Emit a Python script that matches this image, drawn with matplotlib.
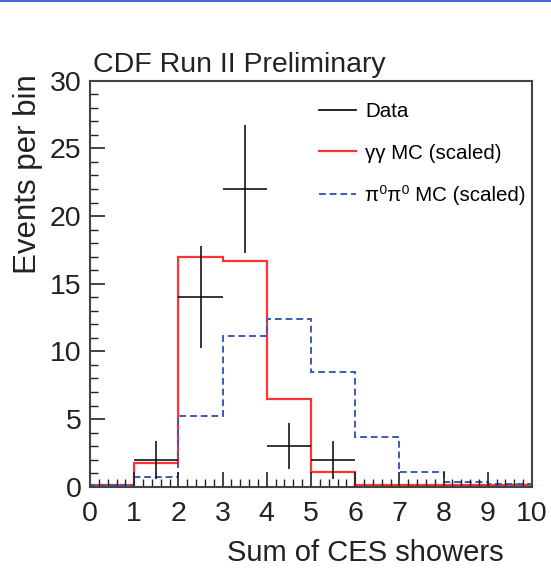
import numpy as np
import matplotlib
matplotlib.use("Agg")
import matplotlib.pyplot as plt
from matplotlib.lines import Line2D

plt.rcParams['font.family'] = ['Liberation Sans', 'DejaVu Sans']

# bin edges (sum of CES showers)
bordes = np.arange(0, 11, 1)

# gamma gamma MC (scaled)
mc_gg = [0.1, 1.75, 16.95, 16.7, 6.5, 1.1, 0.1, 0.1, 0.1, 0.1]
# pi0 pi0 MC (scaled)
mc_pp = [0.1, 0.75, 5.25, 11.15, 12.4, 8.45, 3.7, 1.1, 0.35, 0.2]

# datos
x_datos = [1.5, 2.5, 3.5, 4.5, 5.5]
y_datos = [2, 14, 22, 3, 2]
err_datos = [1.4, 3.75, 4.7, 1.7, 1.4]

fig = plt.figure(figsize=(5.51, 5.77), dpi=100)
ax = fig.add_axes([90/551, 1-486.7/577, 442/551, 406/577])

ax.stairs(mc_gg, bordes, color='#ff3333', linewidth=1.6, label=r'γγ MC (scaled)')
ax.stairs(mc_pp, bordes, color='#3d5bb5', linewidth=1.4, linestyle=(0, (3.5, 2)),
          label='π⁰π⁰ MC (scaled)')
ax.errorbar(x_datos, y_datos, xerr=0.5, yerr=err_datos, fmt='none', ecolor='black',
            elinewidth=1.1, capsize=0)

ax.set_xlim(0, 10)
ax.set_ylim(0, 30)
ax.set_xticks(np.arange(0, 11, 1))
ax.set_xticks(np.arange(0, 10.01, 0.2), minor=True)
ax.set_yticks(np.arange(0, 31, 5))
ax.set_yticks(np.arange(0, 31, 1), minor=True)
ax.tick_params(axis='both', which='both', direction='in', labelsize=20.5,
               color='#222222', labelcolor='#222222')
ax.tick_params(axis='both', which='major', length=11, width=1.2)
ax.tick_params(axis='both', which='minor', length=6, width=1.0)
ax.tick_params(axis='x', which='major', pad=10)
ax.tick_params(axis='y', which='major', pad=6)
for s in ax.spines.values():
    s.set_color('#444444')
    s.set_linewidth(1.5)

ax.set_ylabel('Events per bin', fontsize=22.5, color='#222222', loc='top')
ax.yaxis.set_label_coords(-0.106, 1.015)
ax.set_xlabel('Sum of CES showers', fontsize=21, color='#222222', loc='right')
ax.xaxis.set_label_coords(0.935, -0.13)

fig.text(93/551, 1-72/577, 'CDF Run II Preliminary', fontsize=20.5, color='#222222')

manejadores = [Line2D([], [], color='black', linewidth=1.2),
               Line2D([], [], color='#ff3333', linewidth=1.6),
               Line2D([], [], color='#3d5bb5', linewidth=1.4, linestyle=(0, (3.5, 2)))]
etiquetas = ['Data', 'γγ MC (scaled)', 'π⁰π⁰ MC (scaled)']
ax.legend(manejadores, etiquetas, loc='upper left', bbox_to_anchor=(319/551, 1-102/577),
          bbox_transform=fig.transFigure, frameon=False, fontsize=14.8,
          handlelength=1.8, handletextpad=0.45, labelspacing=1.1,
          borderpad=0, borderaxespad=0)

# linea azul superior
fig.add_artist(Line2D([0, 1], [1-0.8/577, 1-0.8/577], color='#4a6ad8', linewidth=1.5,
                      transform=fig.transFigure))

fig.savefig('out.png', dpi=100)
